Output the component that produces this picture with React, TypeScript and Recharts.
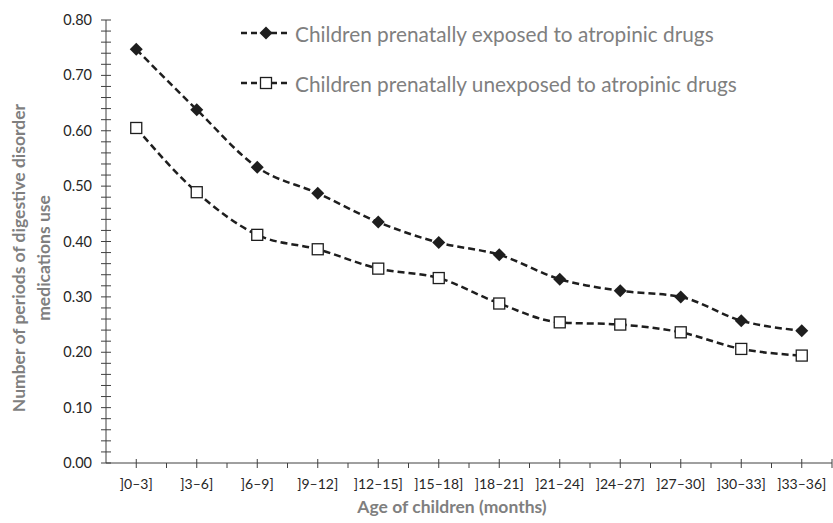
import React from "react";
import { LineChart, Line, XAxis, YAxis, Label } from "recharts";

const categories = ["]0–3]", "]3–6]", "]6–9]", "]9–12]", "]12–15]", "]15–18]", "]18–21]", "]21–24]", "]24–27]", "]27–30]", "]30–33]", "]33–36]"];
const exposed = [0.747, 0.638, 0.534, 0.487, 0.435, 0.398, 0.376, 0.332, 0.311, 0.300, 0.257, 0.239];
const unexposed = [0.605, 0.489, 0.412, 0.386, 0.351, 0.334, 0.288, 0.254, 0.250, 0.236, 0.206, 0.194];
const yTicks = Array.from({ length: 41 }, (_, i) => Math.round(i * 2) / 100);
const majorTicks = [0, 0.1, 0.2, 0.3, 0.4, 0.5, 0.6, 0.7, 0.8];
const seriesNames = ["Children prenatally exposed to atropinic drugs", "Children prenatally unexposed to atropinic drugs"];

const data = categories.map((c, i) => ({ cat: c, exposed: exposed[i], unexposed: unexposed[i] }));

const W = 833;
const H = 523;
const M = { top: 20, right: 1, left: 0, bottom: 0 };
const Y_W = 106;
const X_H = 60;
const BAND = (W - M.left - M.right - Y_W) / categories.length;
const FONT = "Lato, 'Open Sans', sans-serif";
const AXIS = "#404040";
const LINE = "#1e1e1e";
const GRAY = "#7f7f7f";

const YTick = (props: any) => {
  const { x, y, payload } = props;
  const v = payload.value;
  const isMajor = majorTicks.some((m) => Math.abs(m - v) < 1e-6);
  return (
    <g>
      <line x1={x - 5} x2={x + 5} y1={y} y2={y} stroke={AXIS} strokeWidth={1} />
      {isMajor && (
        <text x={x - 14} y={y} dy={5} textAnchor="end" fontSize={14.5} fill="#262626" fontFamily={FONT}>
          {v.toFixed(2)}
        </text>
      )}
    </g>
  );
};

const XTick = (props: any) => {
  const { x, y, payload, index } = props;
  const last = index === categories.length - 1;
  const bx = x + BAND / 2;
  return (
    <g>
      <line x1={x} x2={x} y1={y - 4} y2={y + 5} stroke={AXIS} strokeWidth={1} />
      <line x1={bx} x2={bx} y1={last ? y - 4 : y} y2={y + 5} stroke={AXIS} strokeWidth={1} />
      <text x={x} y={y + 26} textAnchor="middle" fontSize={14} fill="#262626" fontFamily={FONT}>
        {payload.value}
      </text>
    </g>
  );
};

const Diamond = (props: any) => {
  const { cx, cy } = props;
  if (cx == null || cy == null) return null;
  const r = 6.5;
  return <path d={`M${cx},${cy - r}L${cx + r},${cy}L${cx},${cy + r}L${cx - r},${cy}Z`} fill={LINE} stroke="none" />;
};

const Square = (props: any) => {
  const { cx, cy } = props;
  if (cx == null || cy == null) return null;
  const s = 5.5;
  return <rect x={cx - s} y={cy - s} width={2 * s} height={2 * s} fill="#fff" stroke={LINE} strokeWidth={1.3} />;
};

const LegendBox = () => (
  <div style={{ position: "absolute", left: 240, top: 18, fontFamily: FONT }}>
    {seriesNames.map((name, i) => (
      <div key={name} style={{ display: "flex", alignItems: "center", height: 30, marginBottom: i === 0 ? 20 : 0 }}>
        <svg width={52} height={20} style={{ display: "block" }}>
          <line x1={1} x2={51} y1={10} y2={10} stroke={LINE} strokeWidth={2.5} strokeDasharray="6 4" />
          {i === 0 ? <Diamond cx={26} cy={10} /> : <Square cx={26} cy={10} />}
        </svg>
        <span style={{ fontSize: 20.8, color: GRAY, marginLeft: 3, whiteSpace: "nowrap" }}>{name}</span>
      </div>
    ))}
  </div>
);

const YLabel = () => {
  const cy = 258;
  return (
    <g>
      <text x={25} y={cy} transform={`rotate(-90 25 ${cy})`} textAnchor="middle" fontSize={17.5} fontWeight="bold" fill={GRAY} fontFamily={FONT}>
        Number of periods of digestive disorder
      </text>
      <text x={50} y={cy} transform={`rotate(-90 50 ${cy})`} textAnchor="middle" fontSize={17.5} fontWeight="bold" fill={GRAY} fontFamily={FONT}>
        medications use
      </text>
    </g>
  );
};

export default function App() {
  return (
    <div style={{ position: "absolute", left: 0, top: 0, width: W, height: H, background: "#fff" }}>
      <LineChart width={W} height={H} data={data} margin={M}>
        <XAxis
          dataKey="cat"
          height={X_H}
          tick={<XTick />}
          tickLine={false}
          tickSize={0}
          tickMargin={0}
          interval={0}
          padding={{ left: BAND / 2, right: BAND / 2 }}
          axisLine={{ stroke: AXIS, strokeWidth: 1 }}
        >
          <Label
            content={() => (
              <text x={452} y={513} textAnchor="middle" fontSize={17.5} fontWeight="bold" fill={GRAY} fontFamily={FONT}>
                Age of children (months)
              </text>
            )}
          />
        </XAxis>
        <YAxis
          width={Y_W}
          domain={[0, 0.8]}
          ticks={yTicks}
          interval={0}
          tick={<YTick />}
          tickLine={false}
          tickSize={0}
          tickMargin={0}
          axisLine={{ stroke: AXIS, strokeWidth: 1 }}
        >
          <Label content={<YLabel />} />
        </YAxis>
        <Line
          type="monotone"
          dataKey="exposed"
          name={seriesNames[0]}
          stroke={LINE}
          strokeWidth={2.5}
          strokeDasharray="7 4"
          dot={<Diamond />}
          activeDot={false}
          isAnimationActive={false}
        />
        <Line
          type="monotone"
          dataKey="unexposed"
          name={seriesNames[1]}
          stroke={LINE}
          strokeWidth={2.5}
          strokeDasharray="7 4"
          dot={<Square />}
          activeDot={false}
          isAnimationActive={false}
        />
      </LineChart>
      <LegendBox />
    </div>
  );
}
